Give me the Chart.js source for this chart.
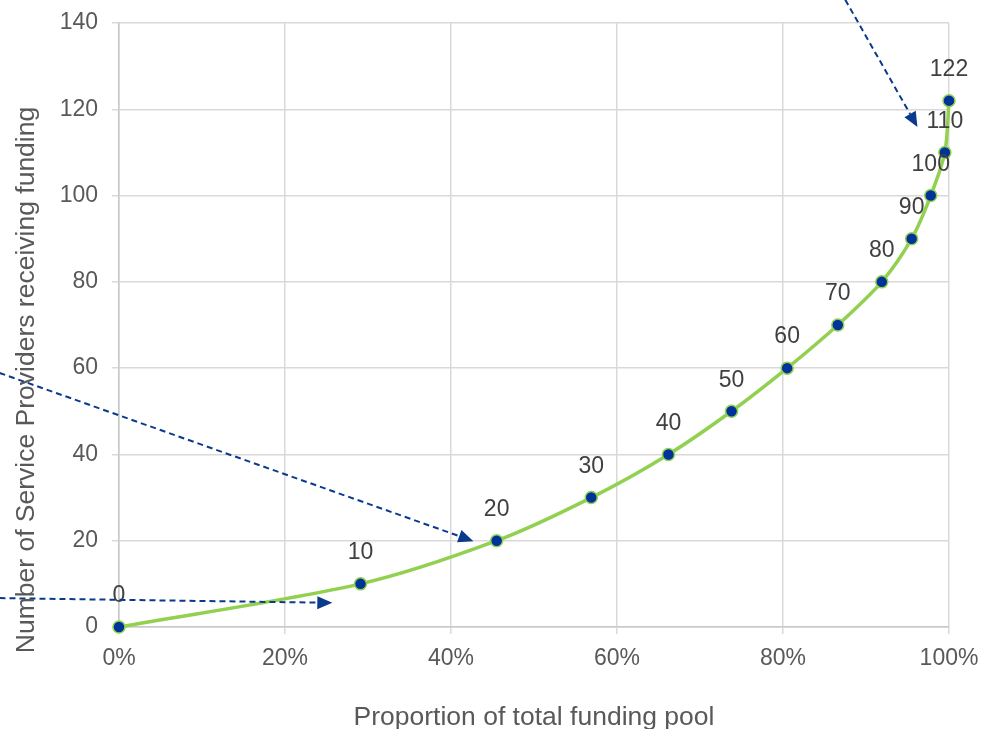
<!DOCTYPE html>
<html>
<head>
<meta charset="utf-8">
<script src="https://cdn.jsdelivr.net/npm/chart.js@4.4.1/dist/chart.umd.min.js"></script>
<style>
  html, body { margin: 0; padding: 0; background: #ffffff; }
  #wrap { width: 985px; height: 729px; position: relative; }
</style>
</head>
<body>
<div id="wrap"><canvas id="c" width="985" height="729"></canvas></div>
<script>
// Proportion of total funding pool (%) for each count of service providers
const fundingShare = [0, 29.1, 45.5, 56.9, 66.2, 73.8, 80.5, 86.6, 91.9, 95.5, 97.8, 99.5, 100];
const providerCounts = [0, 10, 20, 30, 40, 50, 60, 70, 80, 90, 100, 110, 122];
const pointLabels = ['0', '10', '20', '30', '40', '50', '60', '70', '80', '90', '100', '110', '122'];
const xTicks = [0, 20, 40, 60, 80, 100];
const yTicks = [0, 20, 40, 60, 80, 100, 120, 140];
// Annotation arrows, in data units: start and end points
const arrowFrom = [[-14.4, 6.7], [-14.4, 58.9], [87.5, 145.4]];
const arrowTo = [[25.7, 5.6], [42.7, 19.9], [96.2, 115.9]];

const FONT = "'Liberation Sans', Arial, sans-serif";

const points = fundingShare.map((x, i) => ({ x: x, y: providerCounts[i] }));

const labelPlugin = {
  id: 'pointLabels',
  afterDatasetsDraw(chart) {
    const ctx = chart.ctx;
    const meta = chart.getDatasetMeta(0);
    ctx.save();
    ctx.font = '23px ' + FONT;
    ctx.fillStyle = '#404040';
    ctx.textAlign = 'center';
    ctx.textBaseline = 'middle';
    meta.data.forEach((el, i) => {
      ctx.fillText(pointLabels[i], el.x, el.y - 31);
    });
    ctx.restore();
  }
};

const arrowPlugin = {
  id: 'arrows',
  afterDraw(chart) {
    const ctx = chart.ctx;
    const xs = chart.scales.x, ys = chart.scales.y;
    ctx.save();
    ctx.strokeStyle = '#0a3a8c';
    ctx.fillStyle = '#0a3a8c';
    ctx.lineWidth = 2;
    arrowFrom.forEach((from, i) => {
      const to = arrowTo[i];
      const x0 = xs.getPixelForValue(from[0]), y0 = ys.getPixelForValue(from[1]);
      const x1 = xs.getPixelForValue(to[0]), y1 = ys.getPixelForValue(to[1]);
      const ang = Math.atan2(y1 - y0, x1 - x0);
      const headLen = 15, headW = 6.5;
      const bx = x1 - headLen * Math.cos(ang), by = y1 - headLen * Math.sin(ang);
      ctx.setLineDash([6, 4]);
      ctx.beginPath();
      ctx.moveTo(x0, y0);
      ctx.lineTo(bx, by);
      ctx.stroke();
      ctx.setLineDash([]);
      ctx.beginPath();
      ctx.moveTo(x1, y1);
      ctx.lineTo(bx + headW * Math.sin(ang), by - headW * Math.cos(ang));
      ctx.lineTo(bx - headW * Math.sin(ang), by + headW * Math.cos(ang));
      ctx.closePath();
      ctx.fill();
    });
    ctx.restore();
  }
};

const yTitlePlugin = {
  id: 'yTitle',
  afterDraw(chart) {
    const ctx = chart.ctx;
    ctx.save();
    ctx.translate(27, 380);
    ctx.rotate(-Math.PI / 2);
    ctx.font = '26.5px ' + FONT;
    ctx.fillStyle = '#595959';
    ctx.textAlign = 'center';
    ctx.textBaseline = 'middle';
    ctx.fillText('Number of Service Providers receiving funding', 0, 0);
    ctx.restore();
  }
};

new Chart(document.getElementById('c'), {
  type: 'line',
  data: {
    datasets: [{
      data: points,
      borderColor: '#92d050',
      borderWidth: 3.5,
      tension: 0.3,
      pointRadius: 6,
      pointHoverRadius: 6,
      pointBackgroundColor: '#003399',
      pointBorderColor: '#92d050',
      pointBorderWidth: 1.5,
      fill: false,
      clip: false
    }]
  },
  options: {
    responsive: false,
    animation: false,
    events: [],
    layout: { padding: { left: 0, right: 36, top: 23, bottom: 0 } },
    plugins: { legend: { display: false }, tooltip: { enabled: false } },
    scales: {
      x: {
        type: 'linear',
        min: 0, max: 100,
        afterBuildTicks: (s) => { s.ticks = xTicks.map(v => ({ value: v })); },
        afterFit: (s) => { s.height = 102; s.paddingLeft = 0; s.paddingRight = 0; },
        ticks: {
          callback: (v) => v + '%',
          font: { size: 23, family: FONT },
          color: '#595959',
          padding: 11,
          maxRotation: 0
        },
        grid: { color: '#d9d9d9', lineWidth: 1.5, tickLength: 7 },
        border: { color: '#c8c8c8', width: 1.5 },
        title: {
          display: true,
          text: 'Proportion of total funding pool',
          font: { size: 26.5, family: FONT },
          color: '#595959',
          padding: { top: 0, bottom: -5 }
        }
      },
      y: {
        min: 0, max: 140,
        afterBuildTicks: (s) => { s.ticks = yTicks.map(v => ({ value: v })); },
        afterFit: (s) => { s.width = 119; s.paddingTop = 0; s.paddingBottom = 0; },
        ticks: {
          font: { size: 23, family: FONT },
          color: '#595959',
          padding: 14
        },
        grid: { color: '#d9d9d9', lineWidth: 1.5, tickLength: 7 },
        border: { color: '#c8c8c8', width: 1.5 }
      }
    }
  },
  plugins: [labelPlugin, arrowPlugin, yTitlePlugin]
});
</script>
</body>
</html>
